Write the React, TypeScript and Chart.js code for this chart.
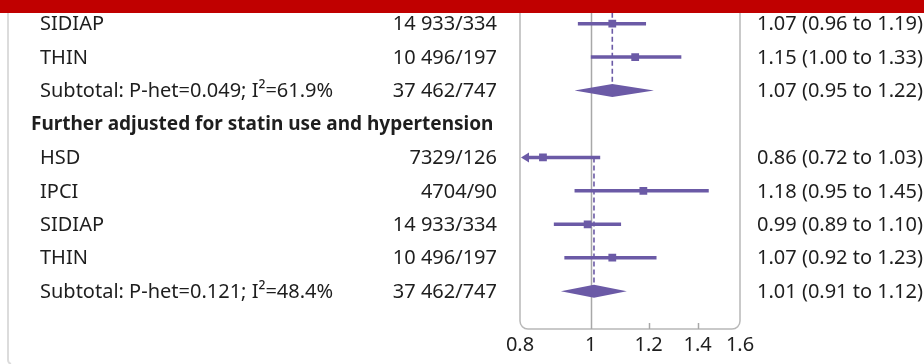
import React, { useEffect, useRef } from 'react';
import { Chart, registerables } from 'chart.js';

Chart.register(...registerables);

// ---------- data ----------
const rowLabels = [
  'SIDIAP',
  'THIN',
  'Subtotal: P-het=0.049; I²=61.9%',
  'Further adjusted for statin use and hypertension',
  'HSD',
  'IPCI',
  'SIDIAP',
  'THIN',
  'Subtotal: P-het=0.121; I²=48.4%',
];
const rowKinds = ['study', 'study', 'subtotal', 'header', 'study', 'study', 'study', 'study', 'subtotal'];
const rowCounts = ['14 933/334', '10 496/197', '37 462/747', '', '7329/126', '4704/90', '14 933/334', '10 496/197', '37 462/747'];
const estimates = [1.07, 1.15, 1.07, null, 0.86, 1.18, 0.99, 1.07, 1.01];
const lowerCI = [0.96, 1.0, 0.95, null, 0.72, 0.95, 0.89, 0.92, 0.91];
const upperCI = [1.19, 1.33, 1.22, null, 1.03, 1.45, 1.1, 1.23, 1.12];
const xTicks = [0.8, 1, 1.2, 1.4, 1.6];
// groups: first study row (negative = above the visible crop) and subtotal row
const groups = [
  { first: -2, subtotal: 2 },
  { first: 4, subtotal: 8 },
];

// ---------- style ----------
const PURPLE = '#6b5aa6';
const TEXT = '#1e1e1e';
const FONT = '"Noto Sans", "Open Sans", sans-serif';
const FS = 20;
const FS_BOLD = 19;

const fmt = (v: number) => v.toFixed(2);

const forestPlugin = {
  id: 'forest',
  beforeDatasetsDraw(chart: any) {
    const { ctx, chartArea: a, scales } = chart;
    const x = scales.x;
    const y = scales.y;
    ctx.save();

    // outer container border (left side)
    ctx.strokeStyle = '#dcdcdc';
    ctx.lineWidth = 2;
    ctx.beginPath();
    ctx.moveTo(8, 0);
    ctx.lineTo(8, 360);
    ctx.quadraticCurveTo(8, 363, 11, 364);
    ctx.stroke();

    // plot frame with rounded bottom corners
    const r = 8;
    ctx.strokeStyle = '#b8b8b8';
    ctx.lineWidth = 1.5;
    ctx.beginPath();
    ctx.moveTo(a.left, a.top);
    ctx.lineTo(a.left, a.bottom - r);
    ctx.arcTo(a.left, a.bottom, a.left + r, a.bottom, r);
    ctx.lineTo(a.right - r, a.bottom);
    ctx.arcTo(a.right, a.bottom, a.right, a.bottom - r, r);
    ctx.lineTo(a.right, a.top);
    ctx.stroke();

    // inner tick marks (and reference line at 1)
    ctx.strokeStyle = '#a8a8a8';
    xTicks.forEach((t) => {
      if (t === xTicks[0] || t === xTicks[xTicks.length - 1]) return;
      const px = Math.round(x.getPixelForValue(t)) + 0.5;
      ctx.beginPath();
      ctx.moveTo(px, a.bottom);
      ctx.lineTo(px, t === 1 ? a.top : a.bottom - 6);
      ctx.stroke();
    });

    // dashed lines at pooled estimates
    ctx.strokeStyle = PURPLE;
    ctx.lineWidth = 1.6;
    ctx.setLineDash([5, 3]);
    groups.forEach((g) => {
      const px = x.getPixelForValue(estimates[g.subtotal] as number);
      ctx.beginPath();
      ctx.moveTo(px, y.getPixelForValue(g.first));
      ctx.lineTo(px, y.getPixelForValue(g.subtotal) - 6);
      ctx.stroke();
    });
    ctx.setLineDash([]);

    // confidence intervals for studies
    ctx.lineWidth = 3.5;
    rowKinds.forEach((k, i) => {
      if (k !== 'study') return;
      const lo = lowerCI[i] as number;
      const hi = upperCI[i] as number;
      const py = y.getPixelForValue(i);
      const clipped = lo < x.min;
      const x0 = x.getPixelForValue(Math.max(lo, x.min));
      const x1 = x.getPixelForValue(Math.min(hi, x.max));
      ctx.beginPath();
      ctx.moveTo(clipped ? x0 + 6 : x0, py);
      ctx.lineTo(x1, py);
      ctx.stroke();
      if (clipped) {
        ctx.fillStyle = PURPLE;
        ctx.beginPath();
        ctx.moveTo(x0 + 1, py);
        ctx.lineTo(x0 + 9, py - 5);
        ctx.lineTo(x0 + 9, py + 5);
        ctx.closePath();
        ctx.fill();
      }
    });
    ctx.restore();
  },
  afterDatasetsDraw(chart: any) {
    const { ctx, scales } = chart;
    const x = scales.x;
    const y = scales.y;
    ctx.save();

    // diamonds for subtotals
    ctx.fillStyle = PURPLE;
    rowKinds.forEach((k, i) => {
      if (k !== 'subtotal') return;
      const py = y.getPixelForValue(i);
      const xl = x.getPixelForValue(lowerCI[i] as number);
      const xe = x.getPixelForValue(estimates[i] as number);
      const xr = x.getPixelForValue(upperCI[i] as number);
      ctx.beginPath();
      ctx.moveTo(xl, py);
      ctx.lineTo(xe, py - 6.5);
      ctx.lineTo(xr, py);
      ctx.lineTo(xe, py + 6.5);
      ctx.closePath();
      ctx.fill();
    });

    // text columns
    ctx.fillStyle = TEXT;
    ctx.textBaseline = 'middle';
    rowKinds.forEach((k, i) => {
      const py = y.getPixelForValue(i) + 1;
      if (k === 'header') {
        ctx.font = `bold ${FS_BOLD}px ${FONT}`;
        ctx.textAlign = 'left';
        ctx.fillText(rowLabels[i], 31, py);
        return;
      }
      ctx.font = `${FS}px ${FONT}`;
      ctx.textAlign = 'left';
      ctx.fillText(rowLabels[i], 40, py);
      ctx.textAlign = 'right';
      ctx.fillText(rowCounts[i], 497, py);
      ctx.textAlign = 'left';
      ctx.fillText(
        `${fmt(estimates[i] as number)} (${fmt(lowerCI[i] as number)} to ${fmt(upperCI[i] as number)})`,
        757,
        py
      );
    });

    // red banner on top
    ctx.fillStyle = '#c00000';
    ctx.fillRect(0, 0, chart.width, 13);
    ctx.restore();
  },
};

export default function App() {
  const ref = useRef<HTMLCanvasElement>(null);

  useEffect(() => {
    document.body.style.margin = '0';
    const canvas = ref.current;
    if (!canvas) return;

    const ROW0 = 18.5;
    const ROWH = 34;
    const BOTTOM = 329;
    const yMin = -ROW0 / ROWH;
    const yMax = yMin + BOTTOM / ROWH;

    const points = rowKinds
      .map((k, i) => (k === 'study' ? { x: estimates[i] as number, y: i } : null))
      .filter(Boolean);

    const chart = new Chart(canvas, {
      type: 'scatter',
      data: {
        datasets: [
          {
            data: points as any,
            pointStyle: 'rect',
            radius: 5.5,
            backgroundColor: PURPLE,
            borderColor: PURPLE,
            borderWidth: 0,
          },
        ],
      },
      options: {
        animation: false,
        responsive: false,
        devicePixelRatio: 1,
        layout: { padding: { left: 520, right: 184, top: 0, bottom: 0 } },
        plugins: { legend: { display: false }, tooltip: { enabled: false } },
        scales: {
          x: {
            type: 'logarithmic',
            min: 0.8,
            max: 1.6,
            afterBuildTicks: (scale: any) => {
              scale.ticks = xTicks.map((v) => ({ value: v }));
            },
            afterFit: (scale: any) => {
              scale.height = 364 - BOTTOM;
            },
            ticks: {
              autoSkip: false,
              maxRotation: 0,
              padding: 4,
              color: TEXT,
              font: { family: FONT, size: FS },
              callback: (v: any) => String(v),
            },
            grid: { display: false, drawTicks: false },
            border: { display: false },
          },
          y: {
            type: 'linear',
            display: false,
            reverse: true,
            min: yMin,
            max: yMax,
          },
        },
      },
      plugins: [forestPlugin],
    });
    return () => chart.destroy();
  }, []);

  return (
    <div style={{ width: 924, height: 364 }}>
      <canvas ref={ref} width={924} height={364} />
    </div>
  );
}
